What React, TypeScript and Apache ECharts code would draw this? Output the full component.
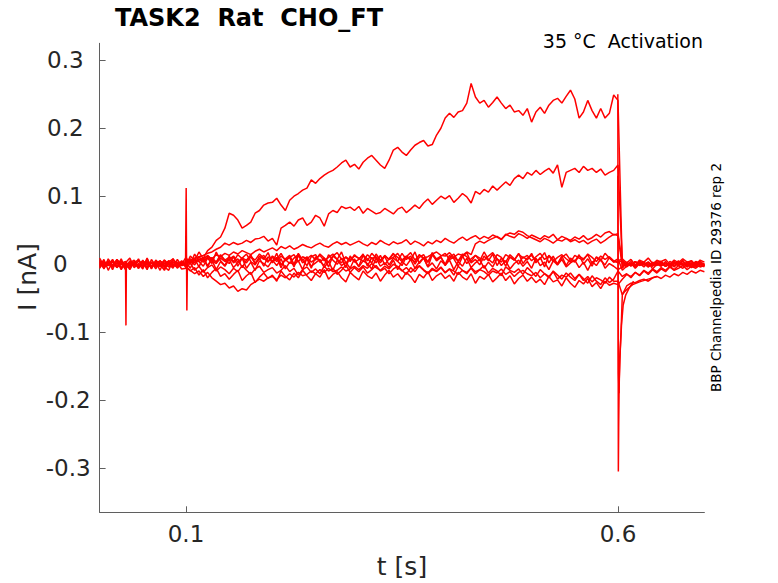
import { useEffect, useRef } from 'react';
import * as echarts from 'echarts';

// sample spacing of the recorded traces, in s
const STEP = 0.005;

// current traces in pA, one value every STEP from t = 0 to 0.7 s
const base1 = [
  6, -7, 8, -3, 5, -8, 2, 9, -5, 1,
  -7, 8, -4, 3, -9, 6, 0, -6, 7, -2,
  3, -6, 8, -4, 10, -2, 6, -8, 4, -3,
  7, -5, 2, 9, -6, 3, -9, 5, 1, -4,
  6, -2, 8, -7, 3, -1, 5, -8, 9, -3,
  2, 7, -5, 4, -9, 6, -2, 3, -6, 8,
  -4, 5, 1, -7, 9, -3, 2, -5, 6, -8,
  4, -2, 7, -6, 3, 10, -4, 2, -7, 5,
  -1, 6, -8, 4, -3, 9, -5, 2, 7, -6,
  3, -4, 8, -2, 5, -7, 1, 6, -3, 4,
  -6, 9, -2, 3, -8, 5, -1, 7, -4, 2,
  6, -5, 3, -9, 4, -2, 8, -6, 1, -3,
  -8, -4, 3, -2, 4, -1, 3, -3, 2, -2,
  4, -3, 1, -4, 3, 0, -2, 5, -3, 2, -1,
];
const base2 = [
  -4, 1, -2, 5, -3, 2, -5, 0, 3, -2,
  4, -1, 2, -4, 1, -3, 5, -2, 0, 3,
  -5, -9, -14, -10, -18, -12, -20, -25, -30, -28,
  -35, -32, -40, -36, -38, -30, -26, -22, -25, -20,
  -18, -23, -16, -20, -14, -19, -12, -17, -15, -10,
  -14, -8, -12, -6, -11, -9, -4, -10, -7, -3,
  -8, -2, -6, 1, -5, -9, -3, -7, 0, -4,
  -10, -5, -12, -6, -3, -9, -14, -8, -11, -5,
  -13, -7, -10, -15, -9, -12, -6, -14, -8, -11,
  -16, -10, -13, -7, -15, -11, -18, -12, -9, -14,
  -17, -12, -20, -14, -18, -11, -22, -16, -19, -13,
  -21, -15, -24, -18, -26, -20, -23, -28, -19, -25,
  -25, -45, -32, -28, -27, -24, -22, -25, -20, -18,
  -21, -16, -19, -14, -17, -12, -15, -10, -13, -9, -11,
];
const base3 = [
  9, -2, 5, -8, 7, 1, -6, 4, -3, 8,
  -5, 9, -7, 6, 0, -9, 3, 8, -6, 2,
  4, 8, 2, 11, 5, 13, 7, 3, 12, 6,
  10, 4, 14, 8, 2, 11, 6, 15, 9, 3,
  12, 7, 16, 5, 10, 14, 4, 11, 8, 13,
  6, 15, 9, 3, 12, 17, 7, 10, 4, 14,
  8, 13, 5, 16, 9, 2, 12, 7, 15, 10,
  4, 11, 17, 6, 13, 9, 3, 14, 8, 12,
  16, 7, 10, 5, 15, 11, 4, 13, 9, 6,
  12, 17, 8, 3, 14, 10, 6, 15, 9, 13,
  5, 11, 16, 7, 12, 4, 10, 14, 8, 3,
  13, 9, 6, 15, 10, 4, 12, 7, 11, 5,
  2, 6, -1, 4, -3, 5, 0, 3, -2, 6,
  1, -3, 4, 0, 5, -2, 3, -1, 4, 2, -2,
];
const base4 = [
  -3, 7, -9, 4, -5, 8, -7, 2, 6, -6,
  3, -8, 7, -2, 5, -4, -9, 6, 2, -7,
  -6, 2, -9, -3, -12, -5, -1, -10, -4, -8,
  -14, -6, -11, -2, -9, -15, -7, -3, -12, -8,
  -5, -13, -9, -2, -11, -6, -16, -8, -4, -12,
  -7, -14, -3, -10, -6, -15, -9, -1, -12, -5,
  -11, -4, -13, -8, -2, -10, -6, -14, -7, -3,
  -9, -15, -5, -11, -2, -8, -13, -6, -10, -4,
  -12, -7, -16, -3, -9, -14, -5, -11, -8, -2,
  -13, -6, -10, -17, -4, -9, -12, -7, -15, -5,
  -11, -18, -8, -14, -20, -10, -16, -22, -13, -19,
  -24, -15, -21, -28, -17, -25, -30, -20, -27, -22,
  -10, -18, -14, -20, -12, -17, -10, -15, -8, -13,
  -7, -11, -4, -9, -6, -2, -8, -3, -6, -1, -4,
];
const base5 = [
  0, 3, -2, 6, -5, 1, 4, -3, 2, -6,
  5, 0, -3, 2, -1, 6, -4, 3, -2, 0,
  10, 0, 15, 4, -3, 9, 1, 18, 5, -2,
  12, 2, 8, -5, 6, 14, 0, 9, -3, 11,
  3, 16, -1, 7, 10, -4, 13, 2, 8, -6,
  11, 4, -2, 14, 6, 0, 9, -5, 12, 3,
  7, 15, -3, 10, 2, 13, -1, 8, 16, 4,
  -2, 11, 6, 18, 1, 9, -4, 14, 5, 10,
  0, 13, 8, -3, 11, 17, 2, 7, -1, 12,
  5, 15, -2, 9, 3, 14, 8, 0, 11, 6,
  16, 2, 10, -4, 13, 7, 1, 12, -2, 9,
  4, 14, 0, 8, -3, 11, 6, -1, 10, 3,
  5, 8, 2, 7, -1, 6, 3, 9, 1, 5,
  4, 7, 0, 6, 2, 8, 3, 5, -1, 6, 3,
];
const base6 = [
  -6, 4, -1, 7, -4, 2, -8, 5, 0, -3,
  6, -5, 3, -7, 4, 1, -4, 8, -2, 5,
  -2, 12, 5, 18, 8, -4, 10, 3, 14, 6,
  1, 11, -3, 9, 15, 4, -1, 12, 7, 17,
  2, 10, -5, 8, 13, 0, 16, 6, -2, 11,
  14, 3, 9, -4, 12, 7, 18, 1, 10, 5,
  -3, 13, 8, 2, 15, 6, 11, -1, 9, 4,
  16, 7, 12, 0, 10, 14, 3, 17, 6, 11,
  -2, 9, 15, 4, 12, 1, 8, 13, 5, 18,
  7, 2, 14, 10, -3, 11, 6, 16, 1, 9,
  13, 4, 8, 17, 2, 12, -1, 10, 15, 6,
  3, 12, 8, 14, 1, 10, 5, 16, 9, 4,
  8, -9, -3, 2, -6, 1, -4, 3, -7, 0,
  -3, 4, -5, 1, -2, 6, -4, 2, -1, 5, -3,
];
const base7 = [
  4, -6, 2, -3, 7, -5, 1, -8, 3, 6,
  -4, 2, -6, 5, -1, -7, 4, 0, -5, 3,
  -3, -10, -5, -16, -8, -20, -12, -6, -18, -14,
  -22, -15, -9, -24, -17, -12, -27, -19, -13, -21,
  -16, -25, -10, -18, -23, -13, -20, -9, -17, -24,
  -14, -19, -8, -22, -15, -11, -20, -26, -12, -18,
  -23, -10, -17, -21, -13, -25, -16, -9, -19, -14,
  -22, -12, -18, -27, -15, -20, -11, -24, -17, -13,
  -21, -16, -25, -12, -19, -23, -14, -28, -18, -22,
  -15, -26, -20, -13, -24, -17, -29, -21, -16, -25,
  -19, -27, -22, -30, -18, -26, -23, -32, -20, -28,
  -34, -24, -29, -21, -33, -27, -36, -25, -31, -28,
  -30, -22, -15, -18, -12, -16, -9, -13, -7, -11,
  -5, -9, -3, -8, -2, -6, 0, -5, -1, -4, -2,
];
const step1 = [
  1, -4, 3, -2, 5, -1, 2, -5, 4, -3,
  -1, 3, -4, 2, 0, -3, 5, -2, 1, -2,
  0, 4, 3, 7, 9, 20, 25, 35, 40, 53,
  75, 72, 65, 53, 57, 62, 75, 79, 87, 90,
  91, 97, 87, 79, 94, 100, 104, 109, 112, 124,
  119, 126, 131, 135, 138, 143, 149, 153, 143, 147,
  140, 150, 156, 160, 153, 146, 141, 153, 168, 172,
  165, 160, 168, 175, 179, 182, 174, 176, 190, 200,
  215, 222, 216, 224, 226, 237, 266, 246, 237, 241,
  231, 238, 246, 237, 229, 234, 224, 226, 219, 229,
  209, 224, 231, 222, 234, 241, 244, 237, 247, 256,
  243, 215, 224, 241, 226, 215, 229, 215, 222, 249,
  241, -6, 2, -3, 4, -2, 1, -4, 3, -1,
  2, -3, 0, 4, -2, 1, -4, 2, -1, 3, 0,
];
const step2 = [
  3, -2, 1, -4, 2, 5, -3, 0, -1, 4,
  2, -5, 3, -1, -3, 1, 4, -2, 0, 2,
  0, 5, 9, 11, 13, 16, 18, 22, 25, 31,
  28, 32, 29, 31, 35, 32, 37, 38, 41, 34,
  38, 28, 53, 57, 62, 56, 65, 68, 57, 62,
  72, 68, 56, 74, 79, 76, 85, 82, 84, 79,
  85, 75, 82, 78, 74, 76, 82, 78, 74, 81,
  84, 76, 81, 87, 82, 90, 96, 88, 94, 100,
  96, 101, 91, 97, 104, 99, 90, 107, 103, 110,
  106, 115, 109, 115, 121, 116, 126, 131, 126, 135,
  131, 138, 132, 137, 141, 134, 146, 113, 135, 138,
  141, 135, 144, 138, 141, 135, 140, 131, 135, 138,
  146, 4, -3, 1, -5, 2, -1, 3, -2, 0,
  4, -2, 1, -3, 2, -1, 3, 0, -4, 2, -1,
];
const step3 = [
  -2, 3, 0, -4, 1, 4, -3, 2, -1, -2,
  3, -1, -4, 2, 5, -2, 0, 3, -3, 1,
  0, 3, 6, 4, 9, 12, 8, 14, 11, 16,
  13, 18, 15, 20, 17, 14, 19, 22, 18, 21,
  24, 20, 26, 23, 27, 22, 25, 29, 26, 24,
  28, 31, 27, 25, 30, 33, 29, 32, 28, 31,
  34, 30, 27, 32, 29, 35, 31, 28, 33, 30,
  32, 36, 29, 34, 31, 27, 33, 30, 35, 32,
  38, 34, 31, 36, 40, 35, 39, 42, 37, 41,
  38, 43, 40, 36, 44, 41, 39, 45, 42, 38,
  43, 40, 37, 42, 39, 44, 36, 41, 38, 35,
  40, 37, 42, 36, 39, 44, 40, 46, 48, 43,
  45, 2, -4, 1, -2, 3, -1, 0, -3, 2,
  -1, 1, -2, 3, 0, -1, 2, -3, 1, 0, -2,
];
const step4 = [
  1, -3, 4, -1, -2, 3, -4, 0, 2, -3,
  -1, 4, -2, 1, -3, 2, 0, -4, 3, -1,
  2, 6, -1, 8, 3, 10, 5, 1, 9, 4,
  7, 12, 3, 9, 6, 11, 2, 8, 13, 5,
  10, 4, 12, 7, 1, 9, 14, 6, 11, 3,
  8, 13, 5, 10, 15, 7, 2, 11, 6, 12,
  9, 4, 14, 8, 11, 5, 13, 7, 10, 16,
  6, 12, 8, 3, 14, 9, 11, 15, 18, 13,
  12, 17, 10, 15, 13, 18, 14, 30, 34, 31,
  35, 38, 41, 37, 43, 46, 44, 49, 47, 42,
  39, 36, 33, 38, 35, 31, 36, 34, 38, 33,
  36, 32, 35, 30, 34, 37, 31, 35, 40, 44,
  42, -3, 1, -2, 4, -1, 2, -4, 0, 3,
  -2, 1, -3, 2, -1, 4, -2, 0, 3, -1, 1,
];

// short artefacts at the pulse edges: times in s, currents in nA
const spikeEarlyT = [0.03, 0.0305, 0.031];
const spikeEarlyV = [0, -0.09, 0];
const spikeOnT = [0.0995, 0.1002, 0.1006, 0.101, 0.1016];
const spikeOnV = [0.002, 0.112, 0.01, -0.068, 0];
const spikeOffT = [0.5998, 0.6004, 0.6008, 0.6014, 0.6025, 0.604, 0.606, 0.609, 0.613, 0.618];
const spikeOffV = [0.25, -0.305, -0.24, -0.17, -0.13, -0.09, -0.06, -0.045, -0.035, -0.025];
const tailOffT = [0.5998, 0.6005, 0.6012, 0.602, 0.6035, 0.605, 0.608, 0.612, 0.617, 0.625, 0.635, 0.645];
const tailOffV = [0.13, -0.16, -0.19, -0.14, -0.1, -0.045, -0.04, -0.035, -0.03, -0.026, -0.022, -0.018];

const xTicks = [0.1, 0.6];
const yTicks = [-0.3, -0.2, -0.1, 0, 0.1, 0.2, 0.3];

const FONT = '"DejaVu Sans", sans-serif';
const RED = '#ff0000';

const traces = [base1, base2, base3, base4, base5, base6, base7, step3, step4, step2, step1];
const spikes = [
  [spikeEarlyT, spikeEarlyV],
  [spikeOnT, spikeOnV],
  [tailOffT, tailOffV],
  [spikeOffT, spikeOffV],
];

export default function App() {
  const chartRef = useRef<HTMLDivElement>(null);

  useEffect(() => {
    if (!chartRef.current) return;
    const chart = echarts.init(chartRef.current, undefined, { renderer: 'svg' });

    const lineSeries = (data: number[][]) => ({
      type: 'line' as const,
      data,
      showSymbol: false,
      symbol: 'none',
      silent: true,
      lineStyle: { color: RED, width: 1.5 },
    });

    const labelStyle = { fontSize: 23, fontFamily: FONT, color: '#262626' };

    const option: echarts.EChartsOption = {
      animation: false,
      backgroundColor: '#ffffff',
      grid: { left: 99.6, right: 73.6, top: 43.3, bottom: 70.7 },
      xAxis: {
        type: 'value',
        min: 0,
        max: 0.7,
        axisLine: { onZero: false, lineStyle: { color: '#5f5f5f', width: 1 } },
        axisTick: { inside: true, length: 6, customValues: xTicks, lineStyle: { color: '#5f5f5f' } },
        axisLabel: { ...labelStyle, margin: 10, customValues: xTicks, formatter: (v: number) => String(v) },
        splitLine: { show: false },
      },
      yAxis: {
        type: 'value',
        min: -0.365,
        max: 0.325,
        axisLine: { show: true, lineStyle: { color: '#5f5f5f', width: 1 } },
        axisTick: { show: true, inside: true, length: 6, customValues: yTicks, lineStyle: { color: '#5f5f5f' } },
        axisLabel: {
          ...labelStyle,
          margin: 9,
          customValues: yTicks,
          formatter: (v: number) => {
            if (Math.abs(v) < 1e-9) return '{z|0}';
            const s = (Math.round(v * 10) / 10).toString();
            return v < 0 ? `{n|${s}}` : `{p|${s}}`;
          },
          rich: {
            n: { ...labelStyle },
            p: { ...labelStyle, padding: [0, 7, 0, 0] },
            z: { ...labelStyle, padding: [0, 23, 0, 0] },
          },
        },
        splitLine: { show: false },
      },
      graphic: [
        {
          type: 'text',
          x: 115,
          y: 17.5,
          style: { text: 'TASK2  Rat  CHO_FT', fontSize: 24, fontWeight: 'bold', fontFamily: FONT, fill: '#000', verticalAlign: 'middle' },
        },
        {
          type: 'text',
          x: 703,
          y: 40.5,
          style: { text: '35 °C  Activation', fontSize: 19, fontFamily: FONT, fill: '#000', align: 'right', verticalAlign: 'middle' },
        },
        {
          type: 'text',
          x: 27,
          y: 277,
          rotation: Math.PI / 2,
          style: { text: 'I [nA]', fontSize: 25, fontFamily: FONT, fill: '#262626', align: 'center', verticalAlign: 'middle' },
        },
        {
          type: 'text',
          x: 402,
          y: 566,
          style: { text: 't [s]', fontSize: 25, fontFamily: FONT, fill: '#262626', align: 'center', verticalAlign: 'middle' },
        },
        {
          type: 'text',
          x: 716,
          y: 277.5,
          rotation: Math.PI / 2,
          style: { text: 'BBP Channelpedia ID 29376 rep 2', fontSize: 13.5, fontFamily: FONT, fill: '#000', align: 'center', verticalAlign: 'middle' },
        },
      ],
      series: [
        ...traces.map(vals => lineSeries(vals.map((v, i) => [i * STEP, v / 1000]))),
        ...spikes.map(([ts, vs]) => lineSeries(ts.map((t, i) => [t, vs[i]]))),
      ],
    };

    chart.setOption(option);

    return () => {
      chart.dispose();
    };
  }, []);

  return <div ref={chartRef} style={{ position: 'fixed', left: 0, top: 0, width: 778, height: 583 }} />;
}
